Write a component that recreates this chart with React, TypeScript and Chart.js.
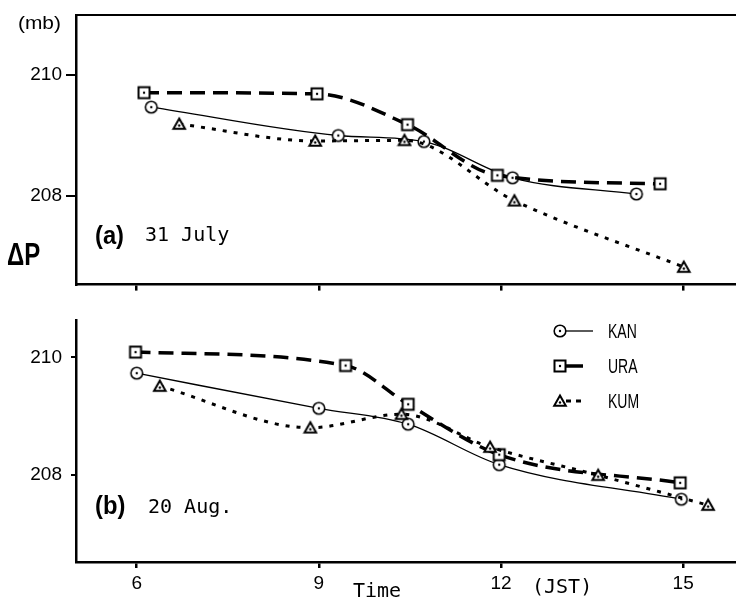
import React, { useEffect, useRef } from "react";
import { Chart, registerables } from "chart.js";
Chart.register(...registerables);

// ---------- data ----------
const stations = ["KAN", "URA", "KUM"];
const xTicks = [6, 9, 12, 15];
const yTicks = [208, 210];

// (a) 31 July
const julyKanTime = [6.24, 9.32, 10.73, 12.19, 14.23];
const julyKanP = [209.47, 209.0, 208.9, 208.3, 208.03];
const julyUraTime = [6.12, 8.97, 10.46, 11.94, 14.62];
const julyUraP = [209.71, 209.69, 209.18, 208.34, 208.2];
const julyKumTime = [6.7, 8.94, 10.41, 12.22, 15.01];
const julyKumP = [209.19, 208.91, 208.92, 207.92, 206.82];

// (b) 20 Aug.
const augKanTime = [6.0, 9.0, 10.47, 11.97, 14.97];
const augKanP = [209.73, 209.13, 208.86, 208.17, 207.58];
const augUraTime = [5.98, 9.44, 10.47, 11.97, 14.95];
const augUraP = [210.09, 209.86, 209.2, 208.34, 207.86];
const augKumTime = [6.38, 8.86, 10.36, 11.82, 13.6, 15.41];
const augKumP = [209.51, 208.8, 209.03, 208.47, 207.99, 207.48];

// ---------- styling helpers ----------
const SANS = "'Liberation Sans', Arial, sans-serif";
const MONO = "'DejaVu Sans Mono', 'Liberation Mono', monospace";

function makeMarker(kind: string): HTMLCanvasElement {
  const c = document.createElement("canvas");
  c.width = 16;
  c.height = 16;
  const g = c.getContext("2d")!;
  g.fillStyle = "#fff";
  g.strokeStyle = "#000";
  let dotY = 8;
  if (kind === "circle") {
    g.lineWidth = 1.6;
    g.beginPath();
    g.arc(8, 8, 5.8, 0, Math.PI * 2);
    g.fill();
    g.stroke();
  } else if (kind === "square") {
    g.lineWidth = 2;
    g.fillRect(2.5, 2.5, 11, 11);
    g.strokeRect(2.5, 2.5, 11, 11);
  } else {
    g.lineWidth = 2;
    g.beginPath();
    g.moveTo(8, 2.5);
    g.lineTo(13.8, 12.8);
    g.lineTo(2.2, 12.8);
    g.closePath();
    g.fill();
    g.stroke();
    dotY = 9.5;
  }
  g.fillStyle = "#000";
  g.beginPath();
  g.arc(8, dotY, 1.2, 0, Math.PI * 2);
  g.fill();
  return c;
}

const seriesStyles = [
  { marker: "circle", width: 1.3, dash: [] as number[] },
  { marker: "square", width: 3.5, dash: [15, 8] },
  { marker: "triangle", width: 3, dash: [4, 7] },
];

function pts(xs: number[], ys: number[]) {
  return xs.map((x, i) => ({ x, y: ys[i] }));
}

type TextItem = { s: string; x: number; y: number; font: string; sx?: number };

function textPlugin(items: TextItem[], legend: boolean) {
  return {
    id: "annot",
    afterDraw(chart: any) {
      const ctx = chart.ctx as CanvasRenderingContext2D;
      ctx.save();
      ctx.fillStyle = "#000";
      ctx.textBaseline = "alphabetic";
      ctx.textAlign = "left";
      for (const t of items) {
        ctx.save();
        ctx.font = t.font;
        ctx.translate(t.x, t.y);
        ctx.scale(t.sx ?? 1, 1);
        ctx.fillText(t.s, 0, 0);
        ctx.restore();
      }
      if (legend) {
        const lens = [27, 17, 20];
        chart.data.datasets.forEach((ds: any, i: number) => {
          const cy = 31 + 35 * i;
          ctx.save();
          ctx.strokeStyle = "#000";
          ctx.lineWidth = ds.borderWidth;
          ctx.setLineDash(i === 2 ? [5, 5] : []);
          ctx.beginPath();
          ctx.moveTo(566, cy);
          ctx.lineTo(566 + lens[i], cy);
          ctx.stroke();
          ctx.restore();
          ctx.drawImage(ds.pointStyle, 560 - 8, cy - 8);
          ctx.save();
          ctx.font = `20px ${SANS}`;
          ctx.textBaseline = "middle";
          ctx.translate(608, cy + 1);
          ctx.scale(0.7, 1);
          ctx.fillText(ds.label, 0, 0);
          ctx.restore();
        });
      }
      ctx.restore();
    },
  };
}

function buildConfig(
  series: { x: number[]; y: number[] }[],
  yMin: number,
  yMax: number,
  top: boolean,
  items: TextItem[]
): any {
  const markers = seriesStyles.map((s) => makeMarker(s.marker));
  const scales: any = {
    x: {
      type: "linear",
      position: "bottom",
      min: 5,
      max: 15.87,
      afterBuildTicks: (s: any) => {
        s.ticks = xTicks.map((v) => ({ value: v }));
      },
      afterFit: (s: any) => {
        s.height = top ? 15 : 41;
      },
      grid: {
        display: true,
        drawOnChartArea: false,
        drawTicks: true,
        tickLength: 6,
        color: "#000",
        lineWidth: 2.5,
      },
      border: { display: true, color: "#000", width: 2.5 },
      ticks: {
        display: !top,
        color: "#000",
        font: { family: SANS, size: 19 },
        padding: 4,
        maxRotation: 0,
        callback: (v: any) => String(v),
      },
    },
    y: {
      type: "linear",
      position: "left",
      min: yMin,
      max: yMax,
      afterBuildTicks: (s: any) => {
        s.ticks = yTicks.map((v) => ({ value: v }));
      },
      afterFit: (s: any) => {
        s.width = 76;
      },
      grid: {
        display: true,
        drawOnChartArea: false,
        drawTicks: true,
        tickLength: top ? 10 : 5,
        color: "#000",
        lineWidth: 2,
      },
      border: { display: true, color: "#000", width: 2.5 },
      ticks: {
        color: "#000",
        font: { family: SANS, size: 19 },
        padding: top ? 4 : 9,
        callback: (v: any) => String(v),
      },
    },
  };
  if (top) {
    scales.xTop = {
      type: "linear",
      position: "top",
      min: 5,
      max: 15.87,
      afterFit: (s: any) => {
        s.height = 0;
      },
      grid: { display: false },
      ticks: { display: false },
      border: { display: true, color: "#000", width: 2 },
    };
  }
  return {
    type: "line",
    data: {
      datasets: series.map((s, i) => ({
        label: stations[i],
        data: pts(s.x, s.y),
        borderColor: "#000",
        borderWidth: seriesStyles[i].width,
        borderDash: seriesStyles[i].dash,
        borderCapStyle: "butt",
        cubicInterpolationMode: "monotone",
        fill: false,
        pointStyle: markers[i],
        pointRadius: 6,
        pointHoverRadius: 6,
        order: 2 - i,
      })),
    },
    options: {
      responsive: false,
      animation: false,
      layout: {
        autoPadding: false,
        padding: { top: top ? 10 : 8, right: 0, left: 0, bottom: 0 },
      },
      plugins: { legend: { display: false }, tooltip: { enabled: false } },
      events: [],
      scales,
    },
    plugins: [textPlugin(items, !top)],
  };
}

export default function App() {
  const topRef = useRef<HTMLCanvasElement>(null);
  const botRef = useRef<HTMLCanvasElement>(null);

  useEffect(() => {
    const topChart = new Chart(
      topRef.current!,
      buildConfig(
        [
          { x: julyKanTime, y: julyKanP },
          { x: julyUraTime, y: julyUraP },
          { x: julyKumTime, y: julyKumP },
        ],
        206.53,
        210.99,
        true,
        [
          { s: "(mb)", x: 18, y: 29, font: `19px ${SANS}`, sx: 1.1 },
          { s: "ΔP", x: 7, y: 265, font: `bold 32px ${SANS}`, sx: 0.75 },
          { s: "(a)", x: 95, y: 244, font: `bold 25px ${SANS}`, sx: 0.95 },
          { s: "31 July", x: 145, y: 241, font: `20px ${MONO}` },
        ]
      )
    );
    const botChart = new Chart(
      botRef.current!,
      buildConfig(
        [
          { x: augKanTime, y: augKanP },
          { x: augUraTime, y: augUraP },
          { x: augKumTime, y: augKumP },
        ],
        206.51,
        210.63,
        false,
        [
          { s: "(b)", x: 95, y: 214, font: `bold 25px ${SANS}`, sx: 0.95 },
          { s: "20 Aug.", x: 148, y: 213, font: `20px ${MONO}` },
          { s: "Time", x: 353, y: 297, font: `20px ${MONO}` },
          { s: "(JST)", x: 532, y: 293, font: `20px ${MONO}` },
        ]
      )
    );
    return () => {
      topChart.destroy();
      botChart.destroy();
    };
  }, []);

  return (
    <div style={{ position: "absolute", left: 0, top: 0, width: 736, height: 603, background: "#fff" }}>
      <canvas ref={topRef} width={736} height={300} style={{ position: "absolute", left: 0, top: 0 }} />
      <canvas ref={botRef} width={736} height={303} style={{ position: "absolute", left: 0, top: 300 }} />
    </div>
  );
}
